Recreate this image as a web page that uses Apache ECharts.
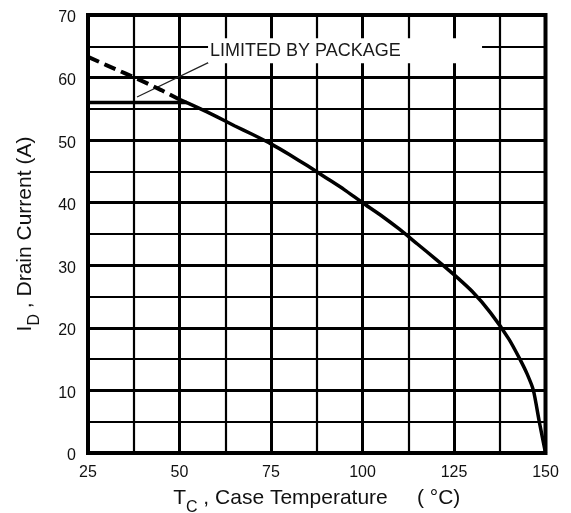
<!DOCTYPE html>
<html>
<head>
<meta charset="utf-8">
<script src="https://cdn.jsdelivr.net/npm/echarts@6/dist/echarts.min.js"></script>
<style>
  html, body { margin: 0; padding: 0; background: #fff; }
  #chart { width: 571px; height: 513px; }
</style>
</head>
<body>
<div id="chart"></div>
<script>
// Case temperature axis (°C) and drain current axis (A)
const xTicks = [25, 50, 75, 100, 125, 150];
const yTicks = [0, 10, 20, 30, 40, 50, 60, 70];

// Silicon-limited drain current above the package limit (dashed part)
const dashedTemp = [25, 30, 35, 40, 45, 50];
const dashedCurrent = [63.3, 62.0, 60.7, 59.4, 58.0, 56.5];

// Derating curve (solid part)
const curveTemp = [50, 55, 60, 65, 70, 75, 80, 85, 90, 95, 100, 105, 110, 115, 120, 125, 130, 135, 140, 143, 145, 146.7, 148.3, 150];
const curveCurrent = [56.5, 55.2, 53.8, 52.3, 50.9, 49.4, 47.7, 45.9, 44.0, 42.1, 40.0, 38.0, 35.8, 33.4, 31.0, 28.5, 25.8, 22.4, 18.2, 15.0, 12.6, 10.0, 5.0, 0];

// Package current limit
const packageTemp = [25, 52];
const packageCurrent = [56, 56];

// Annotation text, its anchor and leader line ends
const annotationText = 'LIMITED BY PACKAGE';
const annotationAnchor = [57.8, 64.3];
const leaderTemp = [38.4, 58.3];
const leaderCurrent = [56.9, 62.5];

const pairs = (xs, ys) => xs.map((x, i) => [x, ys[i]]);

const FONT = 'Liberation Sans, Arial, sans-serif';

const titleRich = {
  t: { fontSize: 21, fontFamily: FONT, color: '#111' },
  s: { fontSize: 16, fontFamily: FONT, color: '#111', padding: [20, 0, 0, 0] }
};

const chart = echarts.init(document.getElementById('chart'), null, { renderer: 'canvas' });

chart.setOption({
  animation: false,
  backgroundColor: '#fff',
  grid: {
    left: 88, right: 25.5, top: 15, bottom: 60,
    outerBoundsMode: 'none',
    containLabel: false,
    show: true, borderColor: '#000', borderWidth: 4, backgroundColor: 'transparent'
  },
  xAxis: {
    type: 'value',
    min: xTicks[0], max: xTicks[xTicks.length - 1], interval: xTicks[1] - xTicks[0],
    axisLine: { show: false },
    axisTick: { show: false },
    axisLabel: { color: '#111', fontSize: 16, fontFamily: FONT, margin: 12 },
    splitLine: { show: true, lineStyle: { color: '#000', width: 3 } },
    minorTick: { show: false, splitNumber: 2 },
    minorSplitLine: { show: true, lineStyle: { color: '#000', width: 2.2 } },
    name: '{t|T}{s|C}{t| , Case Temperature     ( °C)}',
    nameLocation: 'middle',
    nameGap: 27,
    nameTextStyle: { fontFamily: FONT, color: '#111', rich: titleRich }
  },
  yAxis: {
    type: 'value',
    min: yTicks[0], max: yTicks[yTicks.length - 1], interval: yTicks[1] - yTicks[0],
    axisLine: { show: false },
    axisTick: { show: false },
    axisLabel: {
      color: '#111', fontSize: 16, fontFamily: FONT, margin: 12,
      verticalAlign: 'top', lineHeight: 6
    },
    splitLine: { show: true, lineStyle: { color: '#000', width: 3 } },
    minorTick: { show: false, splitNumber: 2 },
    minorSplitLine: { show: true, lineStyle: { color: '#000', width: 2.2 } },
    name: '{t|I}{s|D}{t| , Drain Current (A)}',
    nameLocation: 'middle',
    nameRotate: 90,
    nameGap: 45,
    nameTextStyle: { fontFamily: FONT, color: '#111', rich: titleRich }
  },
  series: [
    {
      name: 'leader',
      type: 'line',
      data: pairs(leaderTemp, leaderCurrent),
      symbol: 'none',
      lineStyle: { color: '#222', width: 1.3 },
      silent: true
    },
    {
      name: 'package limit',
      type: 'line',
      data: pairs(packageTemp, packageCurrent),
      symbol: 'none',
      lineStyle: { color: '#000', width: 3.5 },
      silent: true
    },
    {
      name: 'silicon limit',
      type: 'line',
      data: pairs(dashedTemp, dashedCurrent),
      symbol: 'none',
      lineStyle: { color: '#000', width: 4, type: [12, 6] },
      silent: true
    },
    {
      name: 'derating',
      type: 'line',
      data: pairs(curveTemp, curveCurrent),
      symbol: 'none',
      smooth: 0.2,
      lineStyle: { color: '#000', width: 3.5, join: 'round' },
      silent: true
    },
    {
      name: 'annotation',
      type: 'scatter',
      data: [annotationAnchor],
      symbolSize: 0,
      silent: true,
      z: 10,
      itemStyle: { opacity: 1 },
      label: {
        show: true,
        position: 'right',
        distance: 0,
        formatter: annotationText,
        fontFamily: FONT,
        fontSize: 18,
        color: '#1a1a1a',
        backgroundColor: '#fff',
        width: 272,
        lineHeight: 19,
        padding: [3, 0, 3, 2],
        align: 'left'
      }
    }
  ]
});
</script>
</body>
</html>
